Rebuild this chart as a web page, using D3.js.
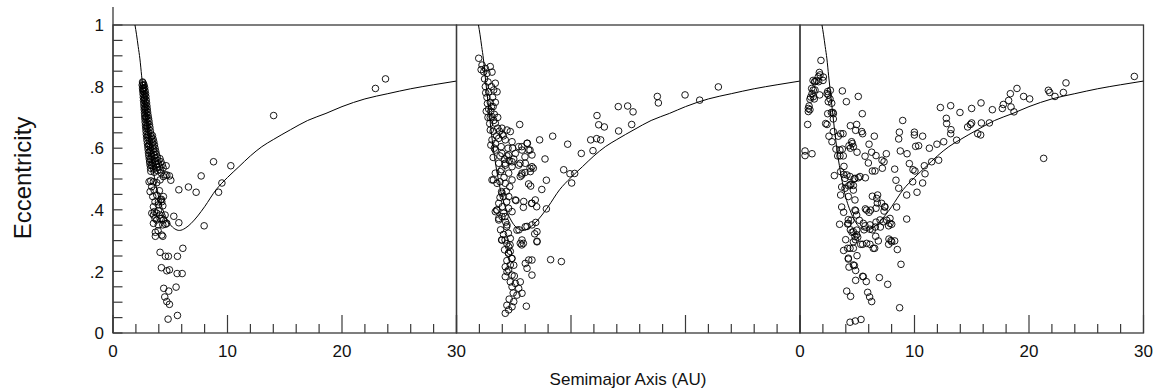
<!DOCTYPE html>
<html>
<head>
<meta charset="utf-8">
<script src="https://cdn.jsdelivr.net/npm/d3@7"></script>
<style>
  body { margin: 0; background: #fff; }
  text { font-family: "Liberation Sans", Arial, sans-serif; fill: #111; }
</style>
</head>
<body>
<svg id="chart" width="1155" height="392"></svg>
<script>
// axis ticks
const xTickLabels = [0, 10, 20, 30];
const yTickValues = [0, 0.2, 0.4, 0.6, 0.8, 1];
const yTickLabels = ["0", ".2", ".4", ".6", ".8", "1"];

// reference curve (semimajor axis, eccentricity), same in every panel
const curveAE = [[1.92,1.0],[2.05,0.97],[2.2,0.93],[2.35,0.89],[2.5,0.835],[2.75,0.75],[3.0,0.665],[3.25,0.59],[3.5,0.53],[3.75,0.48],[4.0,0.44],[4.3,0.405],[4.6,0.378],[5.0,0.352],[5.4,0.338],[5.8,0.333],[6.3,0.34],[6.8,0.355],[7.4,0.38],[8.0,0.41],[9.0,0.465],[10.0,0.505],[11.0,0.54],[12.0,0.575],[13.0,0.605],[14.0,0.628],[15.5,0.66],[17,0.69],[18.6,0.713],[20,0.735],[22,0.76],[24,0.777],[26,0.793],[28,0.806],[30,0.818]];

// left panel
const panelA = [
  [22.92,0.794],[23.80,0.825],[14.03,0.706],[8.78,0.556],[10.29,0.543],[7.70,0.510],[6.59,0.474],[7.26,0.457],[9.51,0.487],[9.22,0.457],
  [5.75,0.465],[5.05,0.496],[5.31,0.379],[5.75,0.358],[7.96,0.348],[6.10,0.275],[5.63,0.249],[4.11,0.262],[4.58,0.249],[4.84,0.249],
  [4.23,0.212],[4.70,0.202],[4.93,0.205],[5.60,0.193],[6.04,0.193],[5.51,0.149],[4.43,0.145],[4.87,0.136],[4.52,0.117],[4.70,0.102],
  [4.93,0.093],[5.63,0.057],[4.81,0.045],[4.35,0.314],[3.70,0.314],[3.70,0.327],[3.94,0.332],[4.58,0.353],[4.35,0.351],[3.53,0.383],
  [3.82,0.367],[4.11,0.372],[4.40,0.367],[3.62,0.394],[3.97,0.397],[4.35,0.413],[4.17,0.432],[4.40,0.443],[3.67,0.426],[3.82,0.448],
  [4.05,0.462],[3.38,0.475],[3.53,0.491],[3.30,0.494],[3.15,0.491],[3.59,0.464],[3.82,0.488],[4.11,0.497],[4.40,0.508],[4.70,0.513],
  [4.55,0.513],[4.93,0.510],[4.64,0.543],[3.24,0.459],[3.47,0.443],[3.97,0.426],[4.23,0.434],[4.26,0.426],[3.53,0.410],[3.96,0.416],
  [3.39,0.389],[3.82,0.389],[4.11,0.383],[4.55,0.383],[3.67,0.372],[4.26,0.372],[3.53,0.356],[3.96,0.351],[4.70,0.356],[4.26,0.318],
  [2.58,0.815],[2.62,0.812],[2.55,0.805],[2.65,0.803],[2.70,0.806],[2.58,0.795],[2.68,0.793],[2.76,0.797],[2.60,0.785],[2.70,0.783],
  [2.80,0.787],[2.63,0.775],[2.74,0.772],[2.84,0.777],[2.65,0.765],[2.76,0.763],[2.87,0.768],[2.67,0.755],[2.79,0.752],[2.90,0.757],
  [2.69,0.745],[2.81,0.742],[2.93,0.747],[2.71,0.735],[2.84,0.733],[2.96,0.737],[2.73,0.725],[2.86,0.722],[2.99,0.727],[2.75,0.715],
  [2.89,0.713],[3.02,0.717],[2.77,0.705],[2.92,0.702],[3.06,0.707],[2.79,0.695],[2.95,0.693],[3.10,0.697],[2.81,0.685],[2.98,0.682],
  [3.14,0.688],[2.84,0.675],[3.01,0.673],[3.18,0.677],[2.86,0.665],[3.04,0.663],[3.22,0.668],[2.89,0.655],[3.07,0.652],[3.26,0.657],
  [2.91,0.645],[3.10,0.643],[3.30,0.647],[3.44,0.641],[2.94,0.635],[3.14,0.632],[3.35,0.637],[3.50,0.630],[2.97,0.625],[3.18,0.623],
  [3.39,0.627],[3.56,0.621],[3.01,0.615],[3.22,0.612],[3.43,0.617],[3.62,0.611],[3.04,0.605],[3.26,0.603],[3.48,0.607],[3.67,0.600],
  [3.07,0.595],[3.30,0.592],[3.52,0.597],[3.73,0.590],[3.10,0.585],[3.34,0.582],[3.57,0.587],[3.79,0.580],[3.13,0.575],[3.38,0.573],
  [3.62,0.577],[3.86,0.571],[3.17,0.565],[3.42,0.562],[3.67,0.567],[3.92,0.560],[4.10,0.566],[3.20,0.555],[3.46,0.552],[3.72,0.557],
  [3.98,0.550],[4.19,0.556],[3.24,0.545],[3.50,0.542],[3.78,0.547],[4.05,0.540],[4.30,0.546],[3.28,0.535],[3.55,0.532],[3.85,0.537],
  [4.12,0.530],[4.38,0.536],[3.30,0.525],[3.60,0.522],[3.90,0.527],[4.20,0.520],
  [2.64,0.790],[2.72,0.760],[2.78,0.730],[2.85,0.700],[2.93,0.670],[3.00,0.640],[3.12,0.610],[3.20,0.590],[3.28,0.565],[3.36,0.545]
];

// middle panel
const panelB = [
  [22.87,0.799],[19.96,0.773],[21.24,0.756],[17.54,0.768],[17.63,0.747],[14.95,0.737],[14.13,0.735],[15.42,0.718],[15.30,0.677],[14.16,0.656],
  [12.27,0.706],[12.42,0.676],[12.91,0.669],[11.72,0.627],[12.24,0.631],[12.59,0.627],[11.92,0.592],[10.90,0.583],[9.71,0.613],[8.40,0.639],
  [7.26,0.627],[7.73,0.565],[9.36,0.530],[9.91,0.517],[10.32,0.518],[10.06,0.487],[7.85,0.496],[7.45,0.466],[5.52,0.677],[7.85,0.403],
  [8.22,0.238],[9.16,0.232],[6.92,0.359],[7.03,0.298],[6.83,0.322],[6.16,0.346],[5.46,0.335],[6.10,0.087],[5.84,0.291],[5.70,0.286],
  [6.56,0.421],[7.00,0.410],[5.84,0.408],[5.20,0.430],[6.30,0.484],[6.48,0.477],[5.98,0.521],[6.42,0.535],[6.71,0.535],[5.70,0.513],
  [6.19,0.616],[6.42,0.594],[5.70,0.605],[5.98,0.572],[5.55,0.551],
  [1.94,0.892],[2.23,0.870],[2.52,0.859],[2.95,0.865],[3.10,0.847],[2.66,0.843],[2.38,0.848],[3.39,0.811],[2.52,0.800],[2.81,0.783],
  [3.25,0.789],[3.54,0.783],[2.66,0.765],[2.95,0.749],[3.39,0.749],[2.81,0.727],[3.10,0.702],[3.39,0.681],[3.97,0.665],[2.95,0.659],
  [4.41,0.659],[4.70,0.654],[3.10,0.627],[3.69,0.632],[4.26,0.627],[4.85,0.621],[5.43,0.605],[6.16,0.616],[3.39,0.594],[3.97,0.583],
  [4.56,0.578],[5.14,0.583],[5.72,0.594],[6.31,0.594],[6.59,0.578],[3.69,0.551],[4.26,0.545],[4.85,0.540],
  [2.60,0.720],[3.00,0.720],[3.20,0.735],[2.75,0.700],[3.30,0.710],[3.60,0.700],[2.90,0.680],[3.60,0.665],[3.20,0.655],[3.50,0.640],
  [4.00,0.645],[3.00,0.610],[3.40,0.615],[3.90,0.605],[4.50,0.600],[4.90,0.600],[3.80,0.575],[4.20,0.565],[3.20,0.570],[5.00,0.565],
  [4.26,0.551],[4.85,0.556],[5.43,0.545],[6.01,0.551],[6.59,0.540],[3.39,0.519],[3.83,0.524],[4.56,0.519],[5.72,0.519],[6.45,0.524],
  [3.10,0.497],[3.54,0.486],[4.26,0.486],[4.85,0.497],[5.57,0.508],[3.97,0.454],[4.56,0.443],[5.14,0.432],[5.87,0.427],[6.59,0.421],
  [6.88,0.432],[3.69,0.421],[3.54,0.399],[4.12,0.389],[4.85,0.394],[3.69,0.372],[4.41,0.351],[5.28,0.334],[6.01,0.345],[6.59,0.351],
  [7.03,0.329],[3.97,0.302],[4.70,0.307],[4.56,0.280],[5.57,0.291],[5.72,0.302],[7.03,0.296],[4.56,0.259],[4.85,0.242],[4.70,0.221],
  [6.31,0.237],[6.59,0.237],[6.01,0.226],[6.16,0.210],[6.59,0.188],[4.26,0.215],[4.41,0.199],[4.26,0.183],[4.85,0.188],[4.70,0.166],
  [5.14,0.161],[5.57,0.166],[4.85,0.150],[5.43,0.145],[5.72,0.129],[5.28,0.123],[5.00,0.102],[4.85,0.085],[4.56,0.075],[4.26,0.064],
  [3.39,0.394],[3.69,0.367],[3.97,0.378],[3.22,0.497],[3.80,0.491],[3.94,0.459],[4.09,0.443],[4.38,0.426],[3.51,0.399],[4.24,0.378],
  [4.38,0.345],[4.53,0.324],[3.94,0.302],[4.24,0.302],[4.68,0.286],[4.53,0.259],[4.82,0.242],
  [2.15,0.855],[2.45,0.825],[2.75,0.815],[3.05,0.800],[2.55,0.780],[3.15,0.765],[2.70,0.745],[3.05,0.735],[2.95,0.700],[3.25,0.690],
  [3.75,0.655],[4.10,0.640],[3.30,0.600],[4.40,0.575],[4.60,0.560],[3.95,0.530],[4.15,0.505],[4.65,0.475],[4.35,0.460],[3.80,0.440],
  [4.00,0.410],[4.55,0.405],[4.30,0.360],[3.85,0.335],[4.10,0.320],[4.40,0.290],[4.20,0.270],[4.70,0.265],[4.40,0.235],[5.00,0.220],
  [4.55,0.205],[5.05,0.185],[4.95,0.130],[4.60,0.110],[4.40,0.090]
];

// right panel
const panelC = [
  [29.20,0.833],[23.23,0.812],[23.00,0.781],[21.69,0.788],[21.81,0.781],[22.27,0.768],[21.28,0.567],[18.95,0.794],[19.53,0.768],[20.06,0.760],
  [18.37,0.777],[18.22,0.755],[18.43,0.734],[18.69,0.718],[17.76,0.742],[17.67,0.729],[16.80,0.725],[15.81,0.747],[14.99,0.729],[13.97,0.716],
  [13.16,0.738],[12.26,0.732],[12.78,0.697],[12.81,0.680],[13.19,0.660],[13.16,0.647],[13.68,0.626],[14.99,0.682],[14.88,0.677],[14.64,0.669],
  [16.54,0.682],[15.84,0.682],[15.52,0.647],[15.78,0.643],[12.55,0.621],[11.96,0.613],[12.11,0.561],[11.50,0.556],[11.30,0.600],[10.86,0.543],
  [10.92,0.517],[10.71,0.639],[10.10,0.606],[10.36,0.608],[9.99,0.652],[9.99,0.643],[8.97,0.690],[8.68,0.652],[8.62,0.630],[8.76,0.591],
  [9.35,0.582],[9.55,0.550],[9.87,0.530],[10.04,0.526],[9.84,0.491],[10.71,0.487],[10.22,0.457],[9.32,0.448],[8.38,0.496],[8.27,0.532],
  [8.62,0.470],[8.44,0.409],[9.32,0.370],[8.82,0.223],[8.70,0.082],[7.77,0.305],[7.95,0.300],[8.27,0.299],[8.50,0.271],[7.74,0.288],
  [7.66,0.158],[6.93,0.180],[7.54,0.582],[7.16,0.561],[7.34,0.556],[7.19,0.535],[6.64,0.576],[6.32,0.526],[6.55,0.526],[6.03,0.613],
  [6.26,0.587],[5.68,0.574],[5.97,0.552],[6.49,0.639],[5.47,0.647],[4.98,0.587],[5.09,0.504],[5.71,0.504],[4.72,0.500],[6.78,0.448],
  [6.32,0.444],[6.75,0.422],[6.64,0.405],[6.17,0.399],[6.03,0.392],[5.71,0.403],[7.39,0.409],[7.34,0.396],[7.57,0.366],[7.86,0.372],
  [8.01,0.353],[7.74,0.348],[7.28,0.361],[7.02,0.344],[6.64,0.360],[6.58,0.344],[6.32,0.335],[6.11,0.337],[6.84,0.299],[6.61,0.314],
  [6.11,0.288],[6.52,0.275],[5.59,0.335],[5.68,0.348],[5.18,0.366],[4.86,0.397],[5.30,0.288],[5.47,0.288],[4.95,0.319],[5.04,0.311],
  [4.83,0.303],[4.54,0.327],[4.40,0.335],[4.45,0.366],[4.22,0.368],[4.16,0.354],[3.46,0.353],[3.99,0.303],[4.16,0.275],[3.81,0.268],
  [4.22,0.240],[4.28,0.214],[4.86,0.203],[4.75,0.219],[4.98,0.251],[5.47,0.184],[5.79,0.167],[4.86,0.171],[5.91,0.132],[6.08,0.117],
  [6.26,0.102],[4.08,0.136],[4.42,0.119],[4.37,0.035],[4.83,0.039],[5.33,0.044],[3.64,0.409],[3.81,0.392],[3.55,0.448],[3.64,0.474],
  [3.93,0.470],[4.25,0.478],[4.45,0.483],[4.66,0.479],[4.10,0.513],[3.81,0.515],[3.93,0.502],[3.55,0.524],[3.00,0.511],[3.84,0.541],
  [3.49,0.575],[3.78,0.575],[3.29,0.575],[3.70,0.597],[3.14,0.597],[4.28,0.608],[4.57,0.615],[4.40,0.600],[3.35,0.639],[3.76,0.647],
  [3.55,0.647],[2.53,0.639],[2.79,0.621],[3.70,0.786],[4.05,0.751],[5.09,0.768],[5.44,0.712],[4.40,0.673],[4.95,0.677],[4.86,0.658],
  [2.36,0.677],[2.42,0.712],[2.91,0.695],[2.91,0.712],[2.74,0.716],[2.47,0.773],[2.62,0.760],[2.36,0.777],[2.65,0.788],[2.42,0.784],
  [1.83,0.885],[1.69,0.846],[1.75,0.838],[2.04,0.831],[1.14,0.820],[1.28,0.816],[1.46,0.819],[1.63,0.816],[1.02,0.794],[1.16,0.789],
  [1.05,0.777],[0.93,0.766],[0.87,0.759],[1.25,0.760],[0.79,0.737],[0.73,0.729],[0.87,0.725],[0.67,0.677],[0.44,0.591],[0.44,0.576],
  [1.05,0.582],[2.88,0.716],[2.24,0.680],[2.01,0.820],[1.72,0.773],
  [1.60,0.832],[1.31,0.816],[1.31,0.789],[1.16,0.767],[0.73,0.719],[2.77,0.746],[2.47,0.751],[5.39,0.654],[2.91,0.654],[4.51,0.621],
  [4.66,0.605],[3.49,0.594],[4.37,0.508],[4.80,0.502],[5.24,0.508],[4.37,0.481],[4.66,0.464],[4.22,0.443],[4.80,0.432],[4.80,0.399],
  [4.95,0.383],[5.82,0.399],[6.70,0.437],[7.13,0.421],[7.42,0.410],[4.22,0.356],[4.66,0.329],[4.95,0.334],[5.53,0.356],[6.11,0.351],
  [6.99,0.367],[7.86,0.356],[4.80,0.313],[4.66,0.296],[5.82,0.291],[6.40,0.275],[8.01,0.296],[4.37,0.275],[4.66,0.275],[4.22,0.243],
  [4.66,0.221],[5.53,0.183]
];

const panelData = [panelA, panelB, panelC];

const svg = d3.select("#chart");

const plotTop = 25, plotBottom = 333, plotLeft = 113, panelW = 343.5;
const frameColor = "#3a3a3a";

const y = d3.scaleLinear().domain([0, 1]).range([plotBottom, plotTop]);

const defs = svg.append("defs");

panelData.forEach((pts, i) => {
  const x0 = plotLeft + i * panelW;
  const x = d3.scaleLinear().domain([0, 30]).range([x0, x0 + panelW]);
  const g = svg.append("g");

  defs.append("clipPath")
    .attr("id", "clip" + i)
    .append("rect")
    .attr("x", x0)
    .attr("y", plotTop)
    .attr("width", panelW)
    .attr("height", plotBottom - plotTop);

  // minor / major ticks along the bottom
  g.selectAll(".xt")
    .data(d3.range(0, 31, 2))
    .join("line")
    .attr("x1", d => x(d))
    .attr("x2", d => x(d))
    .attr("y1", plotBottom)
    .attr("y2", d => d % 10 === 0 ? plotBottom - 18 : plotBottom - 9)
    .attr("stroke", frameColor)
    .attr("stroke-width", 1.2);

  // frame
  g.append("rect")
    .attr("x", x0)
    .attr("y", plotTop)
    .attr("width", panelW)
    .attr("height", plotBottom - plotTop)
    .attr("fill", "none")
    .attr("stroke", frameColor)
    .attr("stroke-width", 1.3);

  const line = d3.line()
    .x(d => x(d[0]))
    .y(d => y(d[1]))
    .curve(d3.curveMonotoneX);

  g.append("path")
    .datum(curveAE)
    .attr("d", line)
    .attr("fill", "none")
    .attr("stroke", "#000")
    .attr("stroke-width", 1)
    .attr("clip-path", `url(#clip${i})`);

  g.append("g")
    .attr("clip-path", `url(#clip${i})`)
    .selectAll("circle")
    .data(pts)
    .join("circle")
    .attr("cx", d => x(d[0]))
    .attr("cy", d => y(d[1]))
    .attr("r", 3.3)
    .attr("fill", "none")
    .attr("stroke", "#000")
    .attr("stroke-width", 0.9);

  if (i !== 1) {
    g.selectAll(".xl")
      .data(xTickLabels)
      .join("text")
      .attr("x", d => x(d))
      .attr("y", 357)
      .attr("text-anchor", "middle")
      .style("font-size", "17px")
      .text(d => d);
  }
});

// left axis of the first panel
svg.append("line")
  .attr("x1", plotLeft)
  .attr("x2", plotLeft)
  .attr("y1", 7)
  .attr("y2", plotBottom)
  .attr("stroke", frameColor)
  .attr("stroke-width", 1.3);

svg.selectAll(".yt")
  .data(d3.range(0, 21).map(k => k / 20))
  .join("line")
  .attr("x1", plotLeft)
  .attr("x2", plotLeft + 9.5)
  .attr("y1", d => y(d))
  .attr("y2", d => y(d))
  .attr("stroke", frameColor)
  .attr("stroke-width", 1.2);

svg.selectAll(".yl")
  .data(yTickValues)
  .join("text")
  .attr("x", 104)
  .attr("y", d => y(d))
  .attr("dy", "0.36em")
  .attr("text-anchor", "end")
  .style("font-size", "17px")
  .text((d, k) => yTickLabels[k]);

svg.append("text")
  .attr("transform", "translate(31,178) rotate(-90)")
  .attr("text-anchor", "middle")
  .style("font-size", "24px")
  .text("Eccentricity");

svg.append("text")
  .attr("x", 628)
  .attr("y", 385)
  .attr("text-anchor", "middle")
  .style("font-size", "17px")
  .text("Semimajor Axis (AU)");
</script>
</body>
</html>
